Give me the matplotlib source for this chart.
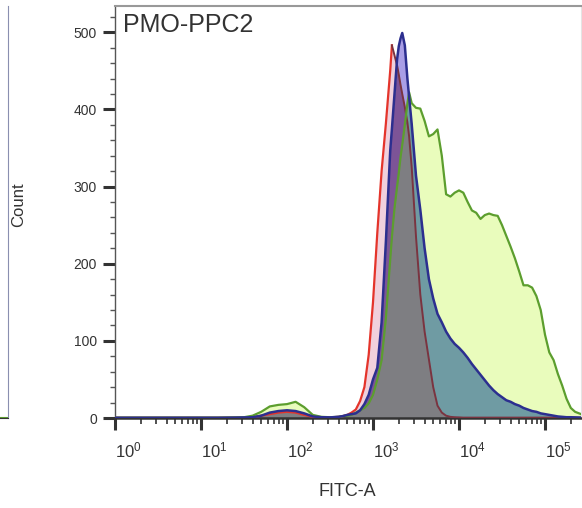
import numpy as np
import matplotlib
matplotlib.use("Agg")
import matplotlib.pyplot as plt
from matplotlib.ticker import FixedLocator, LogLocator, NullFormatter, FuncFormatter

plt.rcParams['font.family'] = ['Liberation Sans', 'DejaVu Sans']
plt.rcParams['mathtext.fontset'] = 'custom'
plt.rcParams['mathtext.rm'] = 'Liberation Sans'
plt.rcParams['mathtext.it'] = 'Liberation Sans'

# FITC-A channel, log10 of intensity (shared grid for the three samples)
fitc_exp = [0.0, 0.2, 0.4, 0.6, 0.8, 1.0, 1.2, 1.4, 1.5,
            1.6, 1.7, 1.8, 1.9, 2.0, 2.1, 2.2, 2.3, 2.4, 2.5, 2.6,
            2.65, 2.7, 2.75, 2.8, 2.85, 2.9, 2.95, 3.0, 3.05, 3.1, 3.15, 3.2,
            3.22, 3.25, 3.28, 3.3, 3.32, 3.34, 3.37, 3.4, 3.42, 3.45,
            3.5, 3.55, 3.6, 3.65, 3.7, 3.75, 3.8, 3.85, 3.9, 3.95, 4.0,
            4.05, 4.1, 4.15, 4.2, 4.25, 4.3, 4.35, 4.4, 4.45, 4.5, 4.55, 4.6,
            4.65, 4.7, 4.75, 4.8, 4.85, 4.9, 4.95, 5.0, 5.05, 5.1, 5.15, 5.2,
            5.25, 5.3, 5.35, 5.42]

count_red = [0.3, 0.3, 0.3, 0.3, 0.3, 0.3, 0.3, 0.5, 0.7,
             1, 3, 5, 7, 8, 7, 4, 1.5, 0.8, 0.8, 1.5,
             2.5, 4, 7, 11, 22, 40, 82, 150, 240, 320, 382, 450,
             483, 470, 457, 445, 432, 420, 403, 383, 365, 325,
             235, 160, 112, 76, 40, 16, 7, 3, 1.5, 1, 0.8,
             0.5, 0.5, 0.5, 0.5, 0.5, 0.5, 0.5, 0.5, 0.5, 0.5, 0.5, 0.5,
             0.5, 0.5, 0.5, 0.5, 0.5, 0.5, 0.5, 0.5, 0.5, 0.5, 0.5, 0.5,
             0.5, 0.5, 0.5, 0.5]

count_blue = [0.3, 0.3, 0.3, 0.3, 0.3, 0.3, 0.3, 0.5, 0.7,
              1, 3, 7, 9, 10, 9, 6, 2, 1, 0.8, 1.5,
              2.5, 4, 5, 6, 10, 18, 30, 50, 65, 124, 229, 346,
              375, 420, 465, 482, 492, 499, 483, 440, 416, 381,
              314, 270, 220, 180, 155, 135, 124, 112, 103, 96, 91,
              85, 78, 70, 63, 56, 49, 42, 36, 31, 27, 23, 21,
              18, 16, 13, 11, 9, 8, 6, 5, 4, 3, 2, 1.5,
              1, 1, 0.8, 0.5]

count_green = [0.5, 0.5, 0.5, 0.5, 0.5, 0.5, 0.5, 0.8, 1,
               3, 8, 15, 17, 18, 21, 14, 4, 1.5, 1, 1.5,
               2.5, 3, 4, 7, 10, 13, 19, 30, 50, 75, 130, 205,
               235, 272, 300, 318, 338, 354, 380, 408, 422, 408,
               402, 401, 385, 365, 368, 374, 340, 290, 287, 292, 295,
               292, 280, 269, 266, 258, 263, 265, 263, 262, 250, 236, 222,
               207, 190, 172, 172, 169, 158, 140, 108, 85, 75, 57, 42,
               25, 13, 8, 5]

x = 10 ** np.array(fitc_exp)
red = np.array(count_red)
blue = np.array(count_blue)
green = np.array(count_green)

fig = plt.figure(figsize=(5.82, 5.08), dpi=100)

# edge of the neighbouring panel, cut off on the left
ax0 = fig.add_axes([-0.5, 90 / 508, 0.5129, 412 / 508])
ax0.set_xlim(0, 1)
ax0.set_ylim(0, 534)
ax0.axhline(0.5, color='#5c9e2e', lw=1.5)
for s in ['top', 'left']:
    ax0.spines[s].set_visible(False)
ax0.spines['right'].set_color('#8a8fb0')
ax0.spines['bottom'].set_color('#333333')
ax0.set_xticks([])
ax0.set_yticks([])

ax = fig.add_axes([115 / 582, 90 / 508, 466 / 582, 412 / 508])

# overlapping fills
ax.fill_between(x, 0, green, color='#e9fcbc', lw=0, zorder=1)
ax.fill_between(x, 0, blue, color='#a99ee6', lw=0, zorder=1.1)
ax.fill_between(x, 0, np.minimum(blue, green), color='#6f9ba3', lw=0, zorder=1.2)
ax.fill_between(x, 0, red, color='#f0d0dc', lw=0, zorder=1.3)
ax.fill_between(x, 0, np.minimum(red, blue), color='#7d5497', lw=0, zorder=1.4)
ax.fill_between(x, 0, np.minimum(np.minimum(red, blue), green), color='#7e7e82', lw=0, zorder=1.5)

# outlines
peak = int(np.argmax(red))
ax.plot(x[:peak + 1], red[:peak + 1], color='#e4342b', lw=1.6, zorder=3)
ax.plot(x[peak:], red[peak:], color='#7a3440', lw=1.4, zorder=3)
ax.plot(x, green, color='#5c9e2e', lw=1.6, zorder=3.1)
ax.plot(x, blue, color='#2c2f8f', lw=1.8, zorder=3.2)

ax.set_xscale('log')
ax.set_xlim(1, 262144)
ax.set_ylim(0, 534)

ax.xaxis.set_major_locator(FixedLocator([1, 10, 100, 1000, 10000, 100000]))
ax.xaxis.set_minor_locator(LogLocator(base=10, subs=np.arange(2, 10)))
ax.xaxis.set_minor_formatter(NullFormatter())
ax.xaxis.set_major_formatter(FuncFormatter(lambda v, p: r'$\mathregular{10^{%d}}$' % round(np.log10(v))))
ax.yaxis.set_major_locator(FixedLocator([0, 100, 200, 300, 400, 500]))
ax.yaxis.set_minor_locator(FixedLocator(np.arange(20, 534, 20)))

ax.tick_params(axis='x', which='major', direction='out', length=8.5, width=2.2,
               color='#333333', labelsize=12, labelcolor='#333333', pad=8)
ax.tick_params(axis='x', which='minor', direction='out', length=4.5, width=1.2, color='#333333')
ax.tick_params(axis='y', which='major', direction='out', length=9, width=2.2,
               color='#333333', labelsize=10, labelcolor='#333333', pad=4)
ax.tick_params(axis='y', which='minor', direction='out', length=3.5, width=1.0, color='#555555')
plt.setp(ax.get_xticklabels(), ha='left')

ax.spines['left'].set_color('#555555')
ax.spines['left'].set_linewidth(1.0)
ax.spines['top'].set_color('#999999')
ax.spines['top'].set_linewidth(1.5)
ax.spines['right'].set_color('#e4e4e4')
ax.spines['bottom'].set_color('#333333')
ax.spines['bottom'].set_linewidth(1.8)

ax.text(0.017, 0.983, 'PMO-PPC2', transform=ax.transAxes, ha='left', va='top',
        fontsize=18, color='#333333')
fig.text(19 / 582, 1 - 205 / 508, 'Count', rotation=90, ha='center', va='center',
         fontsize=12, color='#333333')
fig.text(347 / 582, 1 - 492 / 508, 'FITC-A', ha='center', va='center',
         fontsize=13, color='#333333')

fig.savefig('out.png', dpi=100)
